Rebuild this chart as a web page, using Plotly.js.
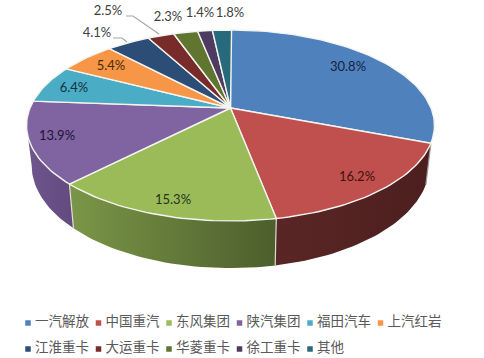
<!DOCTYPE html>
<html>
<head>
<meta charset="utf-8">
<script src="https://cdn.plot.ly/plotly-3.0.1.min.js"></script>
<style>html,body{margin:0;padding:0;background:#fff}#c{width:484px;height:358px}</style>
</head>
<body>
<div id="c"></div>
<script>
// Data
const categories = ['一汽解放','中国重汽','东风集团','陕汽集团','福田汽车','上汽红岩','江淮重卡','大运重卡','华菱重卡','徐工重卡','其他'];
const shares = [30.8,16.2,15.3,13.9,6.4,5.4,4.1,2.5,2.3,1.4,1.8];

// Styles
const colors = ['#4f81bd','#c0504d','#9bbb59','#8064a2','#4bacc6','#f79646','#2c4d75','#772c2a','#5f7530','#4d3b62','#276a7c'];
const wallLeft = ['#3d6391','#5a2625','#7b9647','#6f578f','#3a8a9e','#c0732f','#223b5b','#5c2221','#4a5b25','#3b2d4c','#1e5260'];
const wallRight = ['#3d6391','#4c1f1f','#4c5e2c','#624a7e','#3a8a9e','#c0732f','#223b5b','#5c2221','#4a5b25','#3b2d4c','#1e5260'];
const labelColors = ['#14233f','#43100f','#26331a','#1f1433','#123340','#4a2a08','#404040','#404040','#404040','#404040','#404040'];
const labelPos = [[348,68],[357,178],[173,201],[57,137],[74,89],[111,67],[97,34],[108,12],[168,18],[200,14],[230,14]];
const leaders = [[[113,38],[122,38],[127,42]],[[126,16],[133,16],[159,34]]];

// Pie geometry (perspective projection of a unit disc)
const cx = 230.5, cy = 108, kx = 200.5, ky = 92.3, q = 0.183, depthK = 38.5, dropScale = 0.975;
const silhouette = Math.acos(-q) * 180 / Math.PI;
function proj(deg, drop) {
  const a = deg * Math.PI / 180, u = Math.sin(a), v = Math.cos(a), d = 1 + q * v;
  return [cx + kx * (drop ? dropScale : 1) * u / d, cy - ky * v / d + (drop ? depthK / d : 0)];
}
function arc(a0, a1, drop) {
  const n = Math.max(2, Math.ceil(Math.abs(a1 - a0) / 1.5)), pts = [];
  for (let i = 0; i <= n; i++) pts.push(proj(a0 + (a1 - a0) * i / n, drop));
  return pts;
}
const base = {type:'scatter', mode:'lines', hoverinfo:'skip', showlegend:false};
const traces = [];
const angles = [];
let acc = 0;
shares.forEach(s => { angles.push([acc * 3.6, (acc + s) * 3.6]); acc += s; });

// Side walls (the first slice's wall is hidden by the tilt)
angles.forEach((r, i) => {
  const a0 = Math.max(r[0], angles[1][0]), a1 = Math.min(r[1], 360 - silhouette);
  if (a1 <= a0) return;
  const pts = arc(a0, a1, false).concat(arc(a1, a0, true));
  pts.push(pts[0]);
  traces.push(Object.assign({}, base, {
    x: pts.map(p => p[0]), y: pts.map(p => p[1]),
    fill:'toself', fillcolor: wallLeft[i],
    fillgradient:{type:'horizontal', colorscale:[[0, wallLeft[i]],[1, wallRight[i]]]},
    line:{width:0}
  }));
  // Divider at the slice's clockwise start
  const top = proj(a0, false), bot = proj(a0, true);
  traces.push(Object.assign({}, base, {
    x:[top[0], bot[0]], y:[top[1], bot[1]],
    line:{color: i === 1 ? '#9a9a9a' : 'rgba(232,232,222,0.9)', width:1.2}
  }));
});
// Top faces
angles.forEach((r, i) => {
  const pts = [[cx, cy]].concat(arc(r[0], r[1], false));
  pts.push([cx, cy]);
  traces.push(Object.assign({}, base, {
    x: pts.map(p => p[0]), y: pts.map(p => p[1]),
    fill:'toself', fillcolor: colors[i], line:{color:'#f4f4f0', width:1.4}
  }));
});
// Leader lines
leaders.forEach(l => traces.push(Object.assign({}, base, {
  x: l.map(p => p[0]), y: l.map(p => p[1]), line:{color:'#a6a6a6', width:1.2}
})));
// Percent labels
traces.push({
  type:'scatter', mode:'text', hoverinfo:'skip', showlegend:false,
  x: labelPos.map(p => p[0]), y: labelPos.map(p => p[1]),
  text: shares.map(s => s.toFixed(1) + '%'), textposition:'middle center',
  textfont:{family:'Lato, sans-serif', size:13, color: labelColors}
});
// Legend
const perRow = 6, legX0 = 28, legDX = 70.5, legY0 = 323, legDY = 26;
const legX = categories.map((c, i) => legX0 + legDX * (i % perRow));
const legY = categories.map((c, i) => legY0 + legDY * Math.floor(i / perRow));
traces.push({
  type:'scatter', mode:'markers', hoverinfo:'skip', showlegend:false,
  x: legX, y: legY, marker:{symbol:'square', size:5.5, color: colors, line:{width:0}}
});
traces.push({
  type:'scatter', mode:'text', hoverinfo:'skip', showlegend:false,
  x: legX.map(v => v + 7), y: legY, text: categories, textposition:'middle right',
  textfont:{family:'"Noto Sans CJK SC", sans-serif', size:13.5, color:'#595959'}
});

const hidden = {visible:false, fixedrange:true};
Plotly.newPlot('c', traces, {
  width:484, height:358, margin:{l:0,r:0,t:0,b:0},
  paper_bgcolor:'#fff', plot_bgcolor:'#fff', showlegend:false,
  xaxis:Object.assign({range:[0,484]}, hidden),
  yaxis:Object.assign({range:[358,0]}, hidden)
}, {displayModeBar:false, staticPlot:true});
</script>
</body>
</html>
